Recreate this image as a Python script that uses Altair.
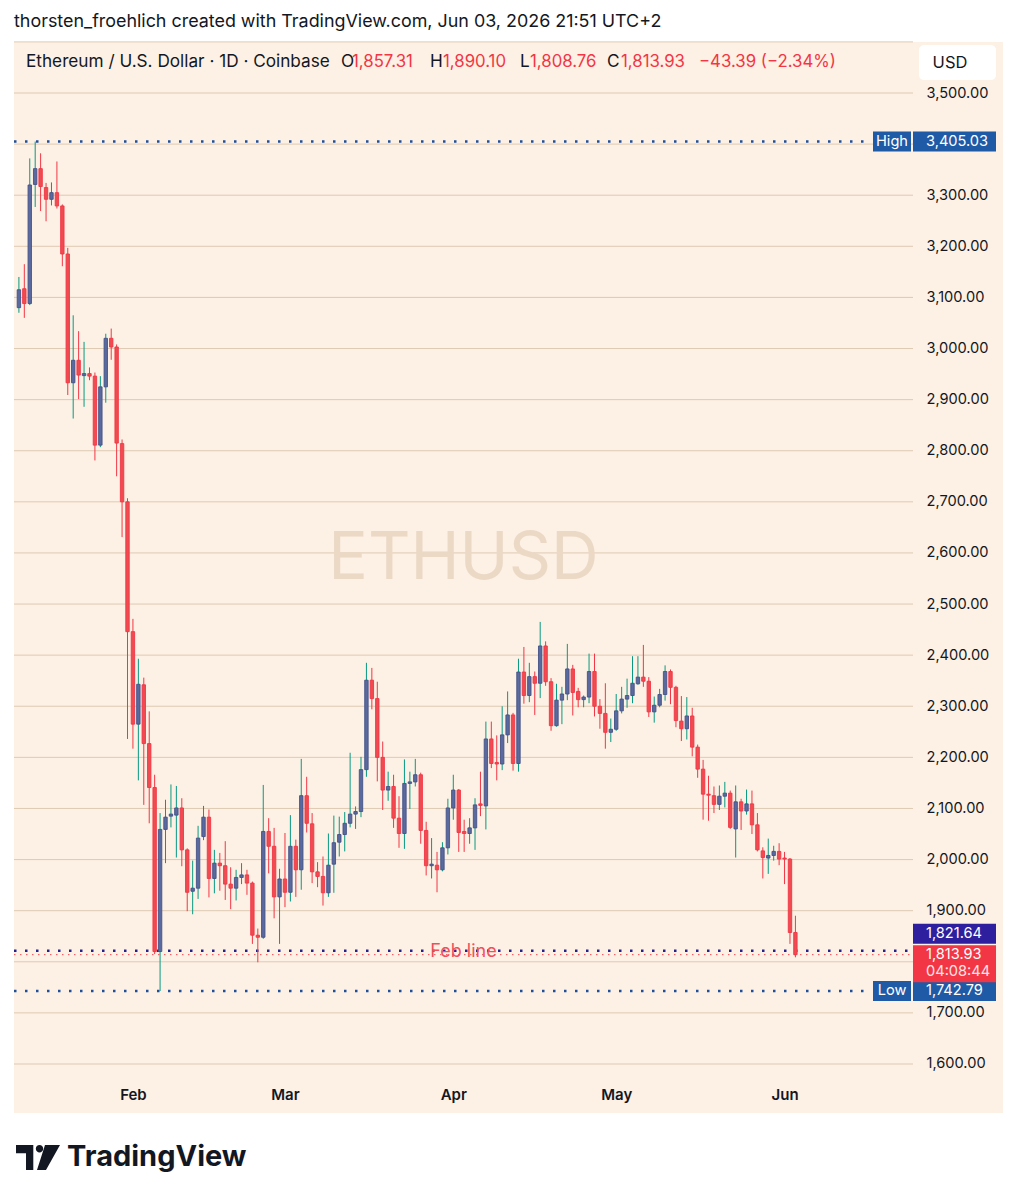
import altair as alt
import pandas as pd
import numpy as np

# ---------------- data ----------------
start_date = "2026-01-11"
opens = [3080, 3117, 3088, 3321, 3352, 3315, 3292, 3305, 3279, 3185, 2933, 2977, 2947, 2951, 2946, 2811, 2925, 3020, 3003, 2814, 2700,
         2446, 2265, 2342, 2227, 2141, 1820, 2059, 2085, 2087, 2101, 2019, 1938, 1944, 2045, 2083, 1963, 1993, 1988, 1952, 1944, 1965, 1970, 1954, 1852, 1848, 2055, 2026, 1927,
         1962, 1936, 2026, 1980, 2125, 2070, 1976, 1967, 1935, 1991, 2034, 2049, 2071, 2089, 2094, 2176, 2351, 2315, 2200, 2136, 2143, 2081, 2051, 2149, 2152, 2166, 2057, 1988, 1989, 1980, 2023,
         2101, 2136, 2055, 2051, 2062, 2109, 2105, 2236, 2190, 2187, 2244, 2283, 2188, 2367, 2321, 2358, 2345, 2418, 2348, 2262, 2312, 2324, 2373, 2329, 2313, 2318, 2368, 2300, 2286, 2249,
         2255, 2291, 2314, 2321, 2344, 2357, 2349, 2289, 2302, 2323, 2368, 2337, 2271, 2256, 2281, 2220, 2177, 2128, 2125, 2108, 2124, 2130, 2060, 2113, 2095, 2109, 2068, 2017, 2003, 2008, 2016,
         2003, 2001, 1857.31]
highs = [3140, 3165, 3372, 3405.03, 3382, 3324, 3325, 3366, 3282, 3197, 3065, 3034, 3013, 2963, 2953, 2946, 3029, 3039, 3008, 2822, 2707,
         2471, 2393, 2356, 2290, 2166, 2091, 2117, 2147, 2144, 2120, 2022, 1998, 2066, 2105, 2098, 2019, 2013, 2036, 1985, 1980, 1993, 1980, 1957, 1865, 2146, 2081, 2062, 1982,
         2052, 2087, 2039, 2197, 2162, 2091, 1995, 2006, 2051, 2086, 2084, 2093, 2209, 2104, 2201, 2385, 2375, 2348, 2231, 2172, 2166, 2124, 2196, 2172, 2197, 2170, 2074, 2042, 2015, 2034, 2119,
         2166, 2138, 2078, 2081, 2120, 2172, 2270, 2270, 2243, 2300, 2329, 2287, 2393, 2416, 2385, 2368, 2465, 2427, 2355, 2344, 2338, 2422, 2381, 2336, 2321, 2403, 2403, 2314, 2345, 2276,
         2324, 2338, 2354, 2398, 2398, 2420, 2357, 2319, 2334, 2380, 2372, 2340, 2320, 2318, 2297, 2225, 2195, 2164, 2143, 2145, 2152, 2135, 2145, 2119, 2137, 2135, 2091, 2024, 2041, 2027, 2032,
         2015, 2003, 1890.10]
lows = [3070, 3060, 3085, 3277, 3269, 3249, 3280, 3274, 3161, 2909, 2863, 2901, 2886, 2938, 2781, 2807, 2894, 2978, 2750, 2631, 2236,
        2217, 2155, 2107, 2071, 1815, 1742.79, 1993, 2063, 2004, 1987, 1899, 1893, 1923, 2038, 1926, 1934, 1939, 1921, 1903, 1920, 1952, 1931, 1835, 1799, 1845, 1973, 1885, 1835,
        1907, 1918, 1927, 1941, 2053, 1954, 1946, 1910, 1927, 1935, 2006, 2016, 2063, 2060, 2083, 2162, 2294, 2153, 2097, 2115, 2062, 2023, 2021, 2099, 2143, 2031, 1969, 1963, 1936, 1977, 2010,
        2078, 2015, 2015, 2031, 2019, 2085, 2059, 2179, 2155, 2175, 2228, 2174, 2172, 2305, 2308, 2283, 2316, 2340, 2252, 2260, 2265, 2312, 2282, 2298, 2298, 2306, 2280, 2256, 2217, 2230,
        2252, 2286, 2297, 2306, 2342, 2338, 2279, 2268, 2298, 2311, 2304, 2259, 2232, 2235, 2202, 2160, 2078, 2076, 2091, 2097, 2102, 2060, 2004, 2058, 2088, 2050, 2016, 1963, 1972, 1998, 1989,
        1952, 1835, 1808.76]
closes = [3115, 3088, 3320, 3352, 3317, 3292, 3305, 3279, 3185, 2933, 2977, 2948, 2951, 2946, 2811, 2925, 3020, 3003, 2815, 2700, 2446,
          2265, 2343, 2227, 2141, 1820, 2059, 2083, 2089, 2101, 2019, 1936, 1944, 2042, 2083, 1963, 1993, 1988, 1952, 1944, 1965, 1970, 1954, 1852, 1848, 2055, 2026, 1927, 1962,
          1936, 2026, 1980, 2125, 2071, 1976, 1967, 1935, 1989, 2033, 2049, 2071, 2089, 2094, 2176, 2351, 2315, 2200, 2136, 2143, 2081, 2051, 2149, 2152, 2166, 2057, 1988, 1991, 1980, 2023, 2101,
          2136, 2053, 2051, 2062, 2107, 2106, 2236, 2188, 2187, 2244, 2283, 2188, 2367, 2321, 2358, 2345, 2418, 2348, 2262, 2312, 2324, 2373, 2327, 2313, 2318, 2368, 2300, 2286, 2249, 2255,
          2291, 2314, 2321, 2345, 2357, 2349, 2289, 2302, 2323, 2368, 2337, 2272, 2256, 2281, 2220, 2177, 2128, 2126, 2108, 2124, 2130, 2063, 2113, 2095, 2109, 2068, 2019, 2004, 2008, 2016, 2001,
          2001, 1857.32, 1813.93]

y_tick_values = [1600, 1700, 1900, 2000, 2100, 2200, 2300, 2400, 2500, 2600, 2700, 2800, 2900, 3000, 3100, 3200, 3300, 3500]
grid_levels = list(range(1600, 3700, 100))

high_price = 3405.03
low_price = 1742.79
feb_line_price = 1821.64
feb_line_label = "Feb line"
countdown = "04:08:44"
symbol_title = "Ethereum / U.S. Dollar · 1D · Coinbase"
header_text = "thorsten_froehlich created with TradingView.com, Jun 03, 2026 21:51 UTC+2"
watermark = "ETHUSD"
currency = "USD"
brand = "TradingView"

# ---------------- styling ----------------
PEACH = "#fdf0e4"
GRID = "#dfcab3"
TEXT = "#131722"
RED = "#f23645"
UP_BODY = "#5a699e"
UP_EDGE = "#435287"
UP_WICK = "#089981"
DN_BODY = "#f04b51"
DN_EDGE = "#f23645"
HL_BLUE = "#1f5aa6"
HL_DOTS = "#1f4f9a"
FEB_BOX = "#2d1f9e"
FEB_DOTS = "#23208f"
FONT = "Inter"

W, H = 989, 1071
X_DOMAIN = [-0.902, 181.23]
Y_DOMAIN = [1504.1, 3599.8]
PLOT_R = 899      # right edge of candle area (price axis starts here)
BOX_R = 982

dates = pd.date_range(start_date, periods=len(opens), freq="D")
df = pd.DataFrame({
    "day": np.asarray((dates - dates[0]).days),
    "open": opens, "high": highs, "low": lows, "close": closes,
})
df["dir"] = np.where(df["close"] >= df["open"], "up", "down")

month_days = [int((d - dates[0]).days) for d in dates if d.day == 1]
month_names = [d.strftime("%b") for d in dates if d.day == 1]
label_expr = " : ".join(f"datum.value == {d} ? '{m}'" for d, m in zip(month_days, month_names)) + " : ''"

yscale = alt.Scale(domain=Y_DOMAIN, zero=False, nice=False, padding=0)
xscale = alt.Scale(domain=X_DOMAIN, zero=False, nice=False, padding=0)
YAXIS = alt.Axis(orient="right", offset=-(W - PLOT_R), values=y_tick_values, format=",.2f",
                 labelFont=FONT, labelFontSize=14.6, labelColor=TEXT, labelPadding=13,
                 domain=False, ticks=False, grid=False, title=None)
XAXIS = alt.Axis(orient="bottom", offset=-38, values=month_days, labelExpr=label_expr,
                 labelFont=FONT, labelFontSize=15, labelFontWeight=600, labelColor=TEXT,
                 labelPadding=12, domain=False, ticks=False, grid=False, title=None, labelFlush=False)


def Y(field):
    return alt.Y(f"{field}:Q", scale=yscale, axis=YAXIS)


def X(field):
    return alt.X(f"{field}:Q", scale=xscale, axis=XAXIS)


# grid
grid = alt.Chart(pd.DataFrame({"level": grid_levels})).mark_rule(color=GRID, strokeWidth=1).encode(
    y=Y("level"), x=alt.value(0), x2=alt.value(PLOT_R))

# watermark
wm = alt.Chart(pd.DataFrame({"t": [watermark]})).mark_text(
    font=FONT, fontSize=66, color="#ebd9c6", align="center", baseline="middle").encode(
    text="t:N", x=alt.value(449.5), y=alt.value(517))

dircolor = dict(domain=["up", "down"])
wicks = alt.Chart(df).mark_rule(strokeWidth=1).encode(
    x=X("day"), y=Y("low"), y2="high",
    color=alt.Color("dir:N", scale=alt.Scale(range=[UP_WICK, RED], **dircolor), legend=None))
bodies = alt.Chart(df).mark_bar(size=3.4, strokeWidth=0.9).encode(
    x=X("day"), y=Y("open"), y2="close",
    fill=alt.Fill("dir:N", scale=alt.Scale(range=[UP_BODY, DN_BODY], **dircolor), legend=None),
    stroke=alt.Stroke("dir:N", scale=alt.Scale(range=[UP_EDGE, DN_EDGE], **dircolor), legend=None))

# dotted lines
hl_df = pd.DataFrame({"price": [high_price, low_price], "label": ["High", "Low"]})
hl_lines = alt.Chart(hl_df).mark_rule(color=HL_DOTS, strokeWidth=2.5, strokeDash=[2.5, 8.5]).encode(
    y=Y("price"), x=alt.value(0), x2=alt.value(857))
feb_df = pd.DataFrame({"price": [feb_line_price]})
feb_line = alt.Chart(feb_df).mark_rule(color=FEB_DOTS, strokeWidth=2.5, strokeDash=[2.5, 8.5]).encode(
    y=Y("price"), x=alt.value(0), x2=alt.value(PLOT_R))
last_df = pd.DataFrame({"price": [closes[-1]]})
last_line = alt.Chart(last_df).mark_rule(color=RED, strokeWidth=1, strokeDash=[1.5, 4.5], opacity=0.9).encode(
    y=Y("price"), x=alt.value(0), x2=alt.value(PLOT_R))

feb_text = alt.Chart(pd.DataFrame({"price": [feb_line_price], "t": [feb_line_label]})).mark_text(
    font=FONT, fontSize=18, color="#f0505a", align="center", baseline="middle", yOffset=1).encode(
    y=Y("price"), x=alt.value(449.5), text="t:N")

# price boxes (thick rules centred on the price)
hl_box = alt.Chart(hl_df).mark_rule(color=HL_BLUE, strokeWidth=20).encode(
    y=Y("price"), x=alt.value(PLOT_R), x2=alt.value(BOX_R))
hl_tag = alt.Chart(hl_df).mark_rule(color=HL_BLUE, strokeWidth=20).encode(
    y=Y("price"), x=alt.value(859), x2=alt.value(897))
hl_val = alt.Chart(hl_df).mark_text(font=FONT, fontSize=14.6, color="white", align="left", baseline="middle").encode(
    y=Y("price"), x=alt.value(912), text=alt.Text("price:Q", format=",.2f"))
hl_lab = alt.Chart(hl_df).mark_text(font=FONT, fontSize=14.6, color="white", align="center", baseline="middle").encode(
    y=Y("price"), x=alt.value(878), text="label:N")

feb_box = alt.Chart(feb_df).mark_rule(color=FEB_BOX, strokeWidth=20, yOffset=-17).encode(
    y=Y("price"), x=alt.value(PLOT_R), x2=alt.value(BOX_R))
feb_val = alt.Chart(feb_df).mark_text(font=FONT, fontSize=14.6, color="white", align="left", baseline="middle", yOffset=-17).encode(
    y=Y("price"), x=alt.value(912), text=alt.Text("price:Q", format=",.2f"))

last_box = alt.Chart(last_df).mark_rule(color=RED, strokeWidth=37, yOffset=9).encode(
    y=Y("price"), x=alt.value(PLOT_R), x2=alt.value(BOX_R))
last_val = alt.Chart(last_df).mark_text(font=FONT, fontSize=14.6, color="white", align="left", baseline="middle", yOffset=0).encode(
    y=Y("price"), x=alt.value(912), text=alt.Text("price:Q", format=",.2f"))
last_cd = alt.Chart(pd.DataFrame({"price": [closes[-1]], "t": [countdown]})).mark_text(
    font=FONT, fontSize=14.6, color="#ffe4e6", align="left", baseline="middle", yOffset=17).encode(
    y=Y("price"), x=alt.value(912), text="t:N")

# header / legend
hdr = alt.Chart(pd.DataFrame({"t": [header_text]})).mark_text(
    font=FONT, fontSize=17.9, color=TEXT, align="left", baseline="middle").encode(
    text="t:N", x=alt.value(0), y=alt.value(-20))

chg = closes[-1] - closes[-2]
pct = chg / closes[-2] * 100
leg_letters = ["O", "H", "L", "C"]
leg_values = [opens[-1], highs[-1], lows[-1], closes[-1]]
black_rows = [{"t": symbol_title, "x": 12}]
red_rows = []
letter_x = [327, 416, 506, 593]
value_x = [338, 429, 516, 607]
for lt, v, lx, vx in zip(leg_letters, leg_values, letter_x, value_x):
    black_rows.append({"t": lt, "x": lx})
    red_rows.append({"t": f"{v:,.2f}", "x": vx})
red_rows.append({"t": f"\u2212{abs(chg):.2f} (\u2212{abs(pct):.2f}%)", "x": 685})
legend_black = alt.Chart(pd.DataFrame(black_rows)).mark_text(
    font=FONT, fontSize=17.2, align="left", baseline="middle", color=TEXT).encode(
    text="t:N", x=alt.X("x:Q", scale=None), y=alt.value(20))
legend_red = alt.Chart(pd.DataFrame(red_rows)).mark_text(
    font=FONT, fontSize=16.8, align="left", baseline="middle", color=RED).encode(
    text="t:N", x=alt.X("x:Q", scale=None), y=alt.value(20))

usd_box = alt.Chart(pd.DataFrame({"t": [currency]})).mark_rect(
    color="white", cornerRadius=5).encode(x=alt.value(905), x2=alt.value(982), y=alt.value(3), y2=alt.value(38))
usd_txt = alt.Chart(pd.DataFrame({"t": [currency]})).mark_text(
    font=FONT, fontSize=16.5, color=TEXT, align="center", baseline="middle").encode(
    text="t:N", x=alt.value(936), y=alt.value(21))

# footer brand (logo drawn as a custom symbol path in unit coordinates)
logo_path = ("M-1,-0.568 L-0.2136,-0.568 L-0.2136,0.568 L-0.5455,0.568 L-0.5455,-0.1909 L-1,-0.1909 Z "
             "M0.0682,-0.568 A0.168,0.168 0 1,1 0.0682,-0.232 A0.168,0.168 0 1,1 0.0682,-0.568 Z "
             "M0.318,-0.568 L1,-0.568 L0.3636,0.568 L-0.0455,0.568 Z")
logo = alt.Chart(pd.DataFrame({"t": [brand]})).mark_point(
    shape=logo_path, size=1936, filled=True, color=TEXT, opacity=1, strokeWidth=0).encode(
    x=alt.value(24), y=alt.value(1115.5))
brand_txt = alt.Chart(pd.DataFrame({"t": [brand]})).mark_text(
    font=FONT, fontSize=29, fontWeight="bold", color=TEXT, align="left", baseline="middle").encode(
    text="t:N", x=alt.value(53), y=alt.value(1115))

chart = alt.layer(
    grid, wm, last_line, feb_line, hl_lines, wicks, bodies, feb_text,
    hl_box, hl_tag, hl_val, hl_lab, feb_box, feb_val, last_box, last_val, last_cd,
    hdr, legend_black, legend_red, usd_box, usd_txt, logo, brand_txt,
).properties(
    width=W, height=H, background="white",
    padding={"left": 14, "top": 42, "right": 14, "bottom": 87},
    autosize=alt.AutoSizeParams(type="none"),
).configure_view(fill=PEACH, stroke=None)

chart.save("out.html", embed_options={"renderer": "svg", "actions": False})
